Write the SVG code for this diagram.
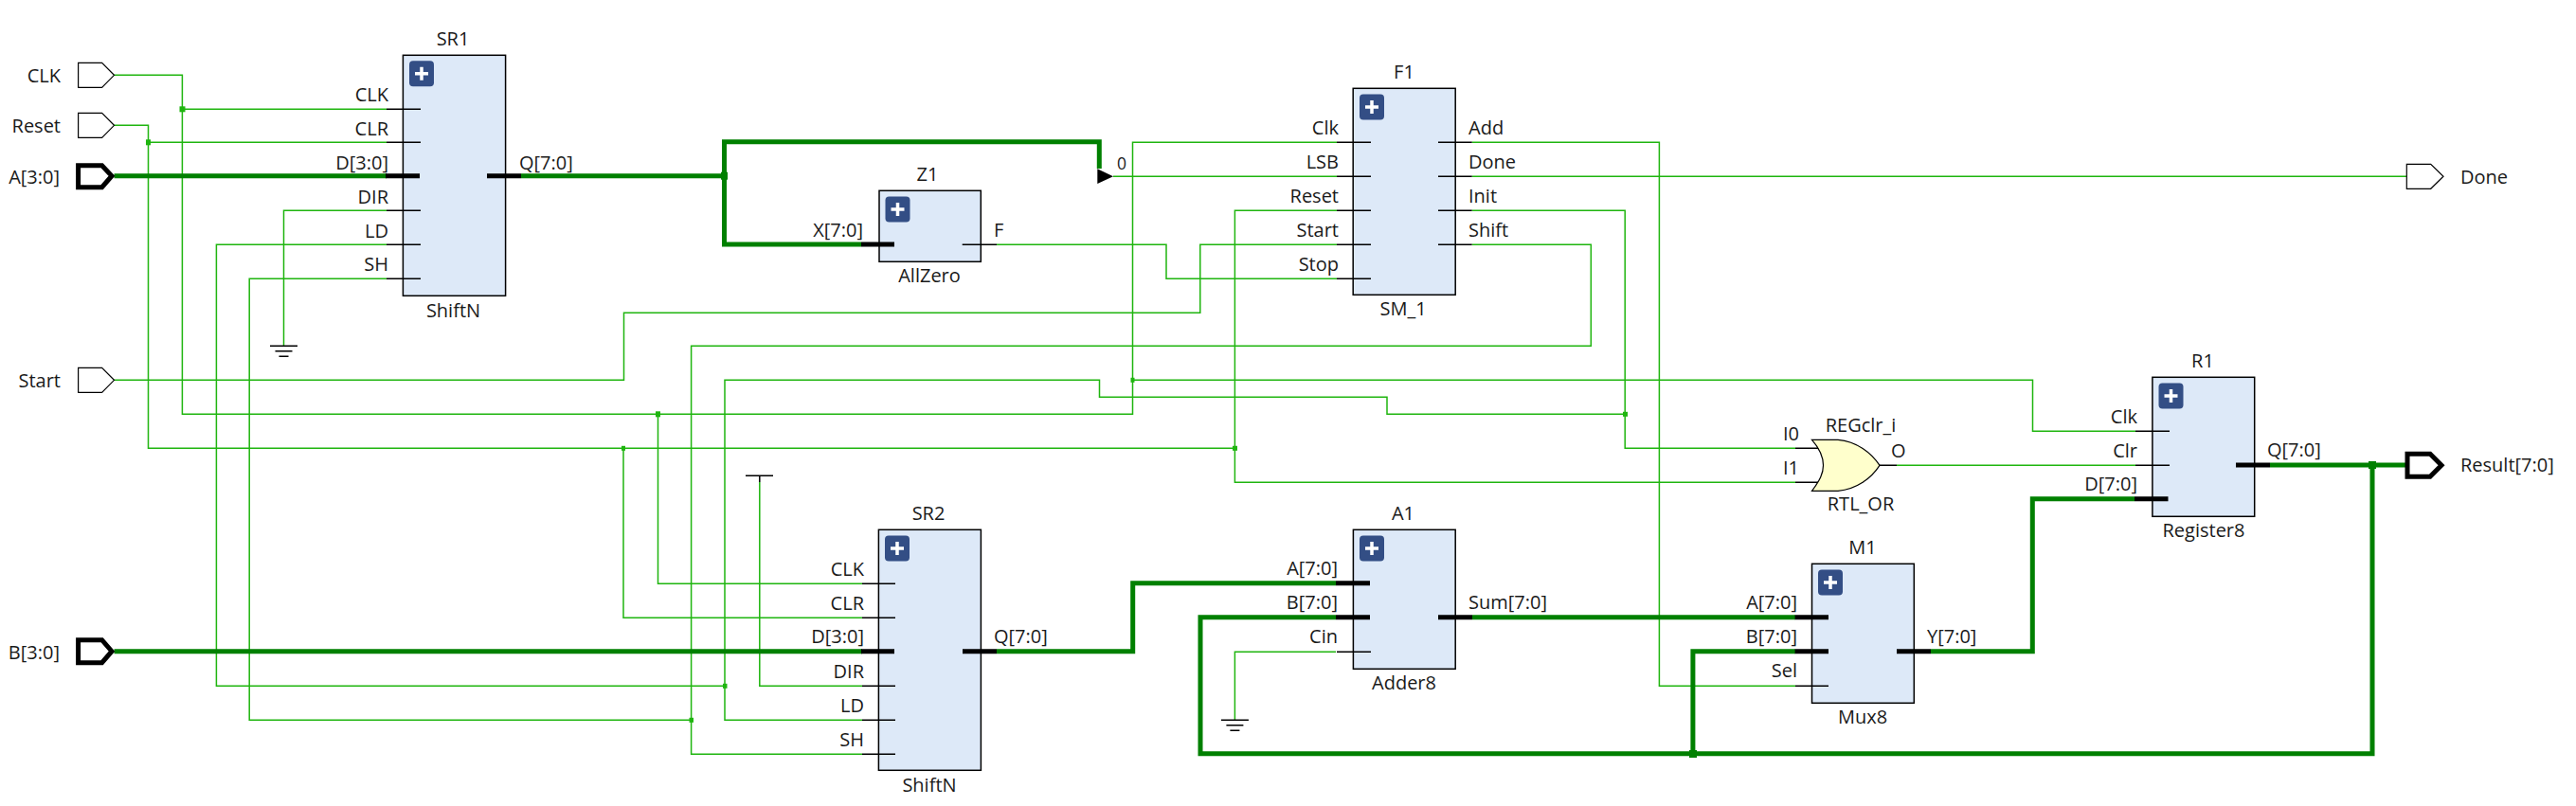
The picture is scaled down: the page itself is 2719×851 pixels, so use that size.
<svg xmlns="http://www.w3.org/2000/svg" xmlns:xlink="http://www.w3.org/1999/xlink" width="2719" height="851" viewBox="0 0 2719 851">
<style>
text{font-family:"Open Sans","Noto Sans","Liberation Sans",sans-serif;font-size:20px;fill:#1a1a1a}
.e{text-anchor:end}.m{text-anchor:middle}
.box{fill:#dde9f8;stroke:#000;stroke-width:1.5}
.w{fill:none;stroke:#1fb50f;stroke-width:1.5}
.b{fill:none;stroke:#008000;stroke-width:5}
.s{fill:none;stroke:#000;stroke-width:1.5}
.t{fill:none;stroke:#000;stroke-width:5}
.p{fill:#fff;stroke:#000;stroke-width:1.2}
.pb{fill:#fff;stroke:#000;stroke-width:5}
.jw{fill:#1fb50f}.jb{fill:#008000}
</style>
<defs>
<g id="plus"><rect width="26" height="27" rx="4" fill="#334e85"/><path d="M6 13.5H20M13 6.5V20.5" stroke="#fff" stroke-width="3.5" fill="none"/></g>
<g id="gnd"><path d="M-14.5 0H14.5M-9 5.5H9M-5 11H5" stroke="#000" stroke-width="1.5" fill="none"/></g>
</defs>
<g id="connectors">
<path class="w" d="M120.5 79.3H192.4V437.3H1195.5V150.3H1411"/>
<path class="w" d="M192.4 115.3H408"/>
<path class="w" d="M694.5 437.3V616.3H910"/>
<path class="w" d="M1195.5 401.3H2145.5V455.3H2254"/>
<path class="w" d="M120.5 132.3H156.5V473.3H1303.4V222.3H1411"/>
<path class="w" d="M156.5 150.3H408"/>
<path class="w" d="M658 473.3V652.3H910"/>
<path class="w" d="M1303.4 473.3V509.3H1895"/>
<path class="w" d="M120.5 401.3H658.5V330.3H1266.8V258.3H1411"/>
<path class="w" d="M408 222.3H299.5V365.3"/>
<path class="w" d="M408 258.3H228.4V724.3H765"/>
<path class="w" d="M408 294.3H263.2V760.3H729.6"/>
<path class="w" d="M1052 258.3H1231V294.3H1411"/>
<path class="w" d="M1175 186.3H1411"/>
<path class="w" d="M1553.7 186.3H2540"/>
<path class="w" d="M1553.7 150.3H1751.4V724.3H1895"/>
<path class="w" d="M1553.7 222.3H1715.2V473.3H1895"/>
<path class="w" d="M1715.2 437.3H1464V419.3H1160.5V401.3H765V760.3H910"/>
<path class="w" d="M1553.7 258.3H1679.3V365.3H729.6V796.3H910"/>
<path class="w" d="M910 724.3H801.8V509"/>
<path class="w" d="M1410 688.3H1303.4V760.3"/>
<path class="w" d="M2002 491.3H2254"/>
<path class="b" d="M120.5 185.7H408"/>
<path class="b" d="M550 185.7H764.5"/>
<path class="b" d="M909 258H764.5V149.7H1160.3V178"/>
<path class="b" d="M120.5 687.7H910"/>
<path class="b" d="M1052 687.7H1195.7V615.7H1410"/>
<path class="b" d="M1554 651.7H1895"/>
<path class="b" d="M2038 687.7H2145.3V526.7H2253"/>
<path class="b" d="M2396 491H2540"/>
<path class="b" d="M2504 491V795.7H1267V651.7H1410"/>
<path class="b" d="M1786.9 795.7V687.7H1895"/>
<rect class="jw" x="189.5" y="112.3" width="6" height="6"/>
<rect class="jw" x="154" y="147.3" width="5" height="6"/>
<rect class="jb" x="761" y="181.7" width="7" height="8"/>
<rect class="jw" x="692" y="434.3" width="5" height="6"/>
<rect class="jw" x="656" y="470.8" width="4" height="5"/>
<rect class="jw" x="1193.5" y="398.8" width="4" height="5"/>
<rect class="jw" x="1301" y="470.8" width="5" height="5"/>
<rect class="jw" x="1713" y="434.8" width="5" height="5"/>
<rect class="jw" x="763" y="721.8" width="4.5" height="5"/>
<rect class="jw" x="727.5" y="757.8" width="4.5" height="5"/>
<rect class="jb" x="1783" y="792" width="8" height="8"/>
<rect class="jb" x="2500" y="487" width="8" height="8"/>
</g>
<g id="port-CLK"><path class="p" d="M82.6 66.3H107.6L120.5 79.3 107.6 92.3H82.6Z"/><text class="e" x="64" y="87">CLK</text></g>
<g id="port-Reset"><path class="p" d="M82.6 119.3H107.6L120.5 132.3 107.6 145.3H82.6Z"/><text class="e" x="64" y="140">Reset</text></g>
<g id="port-A"><path class="pb" d="M82.6 174.7H107.6L118 185.7 107.6 197.7H82.6Z"/><text class="e" x="63" y="193.5">A[3:0]</text></g>
<g id="port-Start"><path class="p" d="M82.6 388.3H107.6L120.5 401.3 107.6 414.3H82.6Z"/><text class="e" x="64" y="409">Start</text></g>
<g id="port-B"><path class="pb" d="M82.6 675.7H107.6L118 687.7 107.6 699.7H82.6Z"/><text class="e" x="63" y="695.7">B[3:0]</text></g>
<g id="port-Done"><path class="p" d="M2540.3 173.3H2565.7L2579 186.3 2565.7 199.3H2540.3Z"/><text x="2597" y="194">Done</text></g>
<g id="port-Result"><path class="pb" d="M2541 479.3H2565L2577 491.3 2565 503.3H2541Z"/><text x="2597" y="498.3">Result[7:0]</text></g>
<g id="SR1">
<rect class="box" x="425.4" y="58.3" width="108.2" height="254"/>
<use xlink:href="#plus" href="#plus" x="432" y="64.3"/>
<path class="s" d="M408 115.3H444M408 150.3H444M408 222.3H444M408 258.3H444M408 294.3H444"/>
<path class="t" d="M407 185.7H443M514 185.7H550"/>
<text class="m" x="478" y="48.3">SR1</text><text class="m" x="478.500" y="335">ShiftN</text>
<text class="e" x="410" y="106.700">CLK</text><text class="e" x="410" y="142.700">CLR</text><text class="e" x="410" y="178.700">D[3:0]</text><text class="e" x="410" y="214.700">DIR</text><text class="e" x="410" y="250.700">LD</text><text class="e" x="410" y="285.700">SH</text>
<text x="548" y="178.700">Q[7:0]</text>
</g>
<g id="Z1">
<rect class="box" x="928" y="201.3" width="107.3" height="75"/>
<use xlink:href="#plus" href="#plus" x="934.500" y="207.5"/>
<path class="s" d="M1015.7 258.3H1052"/>
<path class="t" d="M909 258H944"/>
<text class="m" x="979" y="190.700">Z1</text><text class="m" x="981" y="298.300">AllZero</text>
<text class="e" x="911" y="250">X[7:0]</text><text x="1049" y="250">F</text>
</g>
<g id="mux-LSB">
<path d="M1158.3 178.3L1175 186.3 1158.300 194Z" fill="#000"/>
<text x="1179" y="179.300" style="font-size:17.5px">0</text>
</g>
<g id="F1">
<rect class="box" x="1428.2" y="93.3" width="108" height="218"/>
<use xlink:href="#plus" href="#plus" x="1435" y="99.5"/>
<path class="s" d="M1411 150.3H1447M1411 186.3H1447M1411 222.3H1447M1411 258.3H1447M1411 294.3H1447M1518 150.3H1553.7M1518 186.3H1553.7M1518 222.3H1553.7M1518 258.3H1553.7"/>
<text class="m" x="1482" y="82.700">F1</text><text class="m" x="1481" y="333">SM_1</text>
<text class="e" x="1413" y="141.700">Clk</text><text class="e" x="1413" y="177.700">LSB</text><text class="e" x="1413" y="213.700">Reset</text><text class="e" x="1413" y="249.700">Start</text><text class="e" x="1413" y="285.700">Stop</text>
<text x="1550" y="141.700">Add</text><text x="1550" y="177.700">Done</text><text x="1550" y="213.700">Init</text><text x="1550" y="249.700">Shift</text>
</g>
<g id="SR2">
<rect class="box" x="927.4" y="559.3" width="108" height="254"/>
<use xlink:href="#plus" href="#plus" x="934" y="565.5"/>
<path class="s" d="M910 616.3H945M910 652.3H945M910 724.3H945M910 760.3H945M910 796.3H945"/>
<path class="t" d="M909 687.7H944M1016 687.7H1052"/>
<text class="m" x="980" y="549">SR2</text><text class="m" x="981" y="836">ShiftN</text>
<text class="e" x="912" y="607.700">CLK</text><text class="e" x="912" y="643.700">CLR</text><text class="e" x="912" y="679">D[3:0]</text><text class="e" x="912" y="715.700">DIR</text><text class="e" x="912" y="751.700">LD</text><text class="e" x="912" y="787.700">SH</text>
<text x="1049" y="679">Q[7:0]</text>
</g>
<g id="A1">
<rect class="box" x="1428.4" y="559.3" width="107.8" height="147"/>
<use xlink:href="#plus" href="#plus" x="1435" y="565.5"/>
<path class="s" d="M1411 688.3H1447"/>
<path class="t" d="M1410 615.7H1446M1410 651.7H1446M1518 651.7H1554"/>
<text class="m" x="1481" y="549">A1</text><text class="m" x="1482" y="728">Adder8</text>
<text class="e" x="1412" y="607">A[7:0]</text><text class="e" x="1412" y="643">B[7:0]</text><text class="e" x="1412" y="679">Cin</text>
<text x="1550" y="643">Sum[7:0]</text>
</g>
<g id="M1">
<rect class="box" x="1912.5" y="595.3" width="107.8" height="147"/>
<use xlink:href="#plus" href="#plus" x="1919" y="601.5"/>
<path class="s" d="M1895 724.3H1930"/>
<path class="t" d="M1894.600 651.7H1930M1894.600 687.7H1930M2002 687.7H2038"/>
<text class="m" x="1966" y="585">M1</text><text class="m" x="1966" y="764">Mux8</text>
<text class="e" x="1897" y="643">A[7:0]</text><text class="e" x="1897" y="679">B[7:0]</text><text class="e" x="1897" y="715">Sel</text>
<text x="2034" y="679">Y[7:0]</text>
</g>
<g id="R1">
<rect class="box" x="2271.9" y="398.3" width="107.8" height="147"/>
<use xlink:href="#plus" href="#plus" x="2278.500" y="404.5"/>
<path class="s" d="M2254 455.300H2290M2254 491.300H2290"/>
<path class="t" d="M2253 526.700H2288.500M2360 491H2396"/>
<text class="m" x="2325" y="388">R1</text><text class="m" x="2326" y="566.700">Register8</text>
<text class="e" x="2256" y="446.700">Clk</text><text class="e" x="2256" y="482.700">Clr</text><text class="e" x="2256" y="518">D[7:0]</text>
<text x="2393" y="482">Q[7:0]</text>
</g>
<g id="REGclr_i">
<path d="M1895 473.3H1920M1895 509.300H1920M1984 491.300H2002" class="s"/>
<path d="M1912.5 464.300H1940C1960 466 1975 478 1984 491.300 1975 505 1960 516.500 1940 518.300H1912.500C1921 507 1924.500 500 1924.500 491.300 1924.500 482 1921 474 1912.500 464.300Z" fill="#ffffcc" stroke="#000" stroke-width="1.2"/>
<text class="m" x="1964" y="455.700">REGclr_i</text><text class="m" x="1964" y="539">RTL_OR</text>
<text class="e" x="1899" y="465">I0</text><text class="e" x="1899" y="501">I1</text><text x="1996" y="482.700">O</text>
</g>
<g id="GND1"><use xlink:href="#gnd" href="#gnd" x="299.500" y="365.300"/></g>
<g id="GND2"><use xlink:href="#gnd" href="#gnd" x="1303.400" y="760.300"/></g>
<g id="VCC1"><path d="M787 502.300H816M801.800 502.300V509" stroke="#000" stroke-width="1.5" fill="none"/></g>
</svg>
